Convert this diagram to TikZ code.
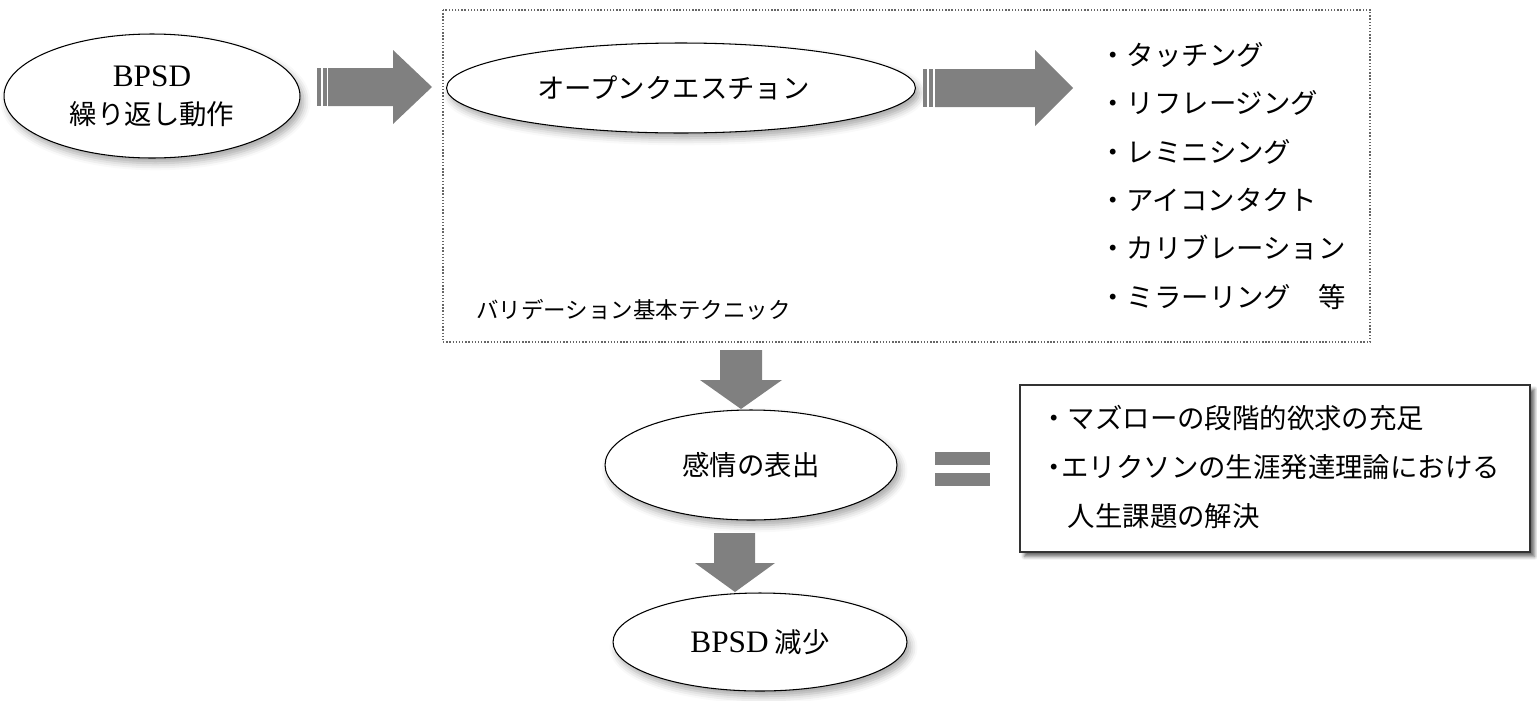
\documentclass[tikz,border=0pt]{standalone}
\usepackage{fontspec}
\setmainfont{Liberation Serif}
\newfontfamily\jp{Noto Sans CJK JP}
\usetikzlibrary{shapes.geometric,shadows,shadows.blur}
\definecolor{arrowgray}{HTML}{808080}
\newcommand\mainsz{\fontsize{15.6pt}{21.6pt}\selectfont\jp}
\newcommand\latsz{\fontsize{17.8pt}{21.6pt}\selectfont\rmfamily}
\newcommand\smallsz{\fontsize{12.8pt}{15pt}\selectfont\jp}
\begin{document}
\begin{tikzpicture}[x=0.02cm,y=-0.02cm,
  ell/.style={ellipse, draw=black, line width=0.6pt, fill=white, inner sep=0pt,
    blur shadow={shadow xshift=2pt, shadow yshift=-3pt, shadow blur radius=4pt, shadow opacity=35},
    font=\mainsz, align=center},
  txt/.style={anchor=west, inner sep=0pt, font=\mainsz},
  blockarrow/.style={fill=arrowgray, draw=none},
  frame/.style={draw=gray!80!black, densely dotted, line width=0.8pt},
  infobox/.style={draw=black!80, line width=0.8pt, fill=white,
    blur shadow={shadow xshift=2.5pt, shadow yshift=-2.5pt, shadow blur radius=2pt, shadow opacity=60}}]
\useasboundingbox (0,0) rectangle (1537,700);

% dotted frame
\draw[frame] (443,10) rectangle (1370,342);

% ellipses
\node[ell, minimum width=5.92cm, minimum height=2.48cm] (bpsd) at (152,96)
  {{\latsz BPSD}\\繰り返し動作};
\node[ell, minimum width=9.38cm, minimum height=1.8cm] (open) at (681,88)
  {\hspace*{-0.3cm}オープンクエスチョン};
\node[ell, minimum width=5.84cm, minimum height=2.2cm] (kanjo) at (751,465)
  {感情の表出};
\node[ell, minimum width=5.88cm, minimum height=1.96cm] (gen) at (760,642)
  {{\latsz BPSD} 減少};

% block arrows
\fill[blockarrow] (317,68) rectangle (321,106);
\fill[blockarrow] (322.5,68) rectangle (326.5,106);
\fill[blockarrow] (328,68) -- (393,68) -- (393,50) -- (432,87) -- (393,124) -- (393,106) -- (328,106) -- cycle;

\fill[blockarrow] (923,69) rectangle (927,107);
\fill[blockarrow] (928.5,69) rectangle (932.5,107);
\fill[blockarrow] (935,69) -- (1035,69) -- (1035,50) -- (1073,88) -- (1035,126) -- (1035,107) -- (935,107) -- cycle;

\fill[blockarrow] (720,350) -- (762,350) -- (762,380) -- (782,380) -- (741,409) -- (700,380) -- (720,380) -- cycle;
\fill[blockarrow] (714,533) -- (755,533) -- (755,563) -- (775,563) -- (735,592) -- (695,563) -- (714,563) -- cycle;

% equals
\fill[blockarrow] (935,452) rectangle (990,465);
\fill[blockarrow] (935,473) rectangle (990,486);

% list
\node[txt] (l1) at (1099,55) {・タッチング};
\node[txt] (l2) at (1099,103) {・リフレージング};
\node[txt] (l3) at (1099,152) {・レミニシング};
\node[txt] (l4) at (1099,200) {・アイコンタクト};
\node[txt] (l5) at (1099,248) {・カリブレーション};
\node[txt] (l6) at (1099,297) {・ミラーリング　等};

% frame label
\node[anchor=west, inner sep=0pt, font=\smallsz] (lab) at (476,310) {バリデーション基本テクニック};

% info box
\draw[infobox] (1020,385) rectangle (1530,552);
\node[txt] (b1) at (1040,418) {・マズローの段階的欲求の充足};
\node[txt] (b2) at (1040,467) {\makebox[0.42cm][l]{・}エリクソンの生涯発達理論における};
\node[txt] (b3) at (1040,516) {　人生課題の解決};
\end{tikzpicture}
\end{document}
